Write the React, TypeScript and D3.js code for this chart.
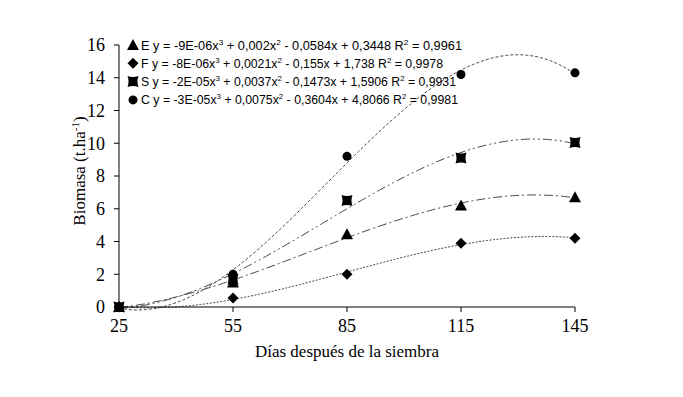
import React from "react";
import * as d3 from "d3";

const days = [25, 55, 85, 115, 145];
const seriesNames = ["E", "F", "S", "C"];
const valuesE = [0, 1.5, 4.45, 6.2, 6.7];
const valuesF = [0, 0.55, 2.0, 3.9, 4.2];
const valuesS = [0, 1.7, 6.5, 9.1, 10.05];
const valuesC = [0, 2.0, 9.2, 14.2, 14.3];
const equations = [
  ["y = -9E-06x", "3", " + 0,002x", "2", " - 0,0584x + 0,3448 R", "2", " = 0,9961"],
  ["y = -8E-06x", "3", " + 0,0021x", "2", " - 0,155x + 1,738 R", "2", " = 0,9978"],
  ["y = -2E-05x", "3", " + 0,0037x", "2", " - 0,1473x + 1,5906 R", "2", " = 0,9931"],
  ["y = -3E-05x", "3", " + 0,0075x", "2", " - 0,3604x + 4,8066 R", "2", " = 0,9981"],
];
const yTicks = [0, 2, 4, 6, 8, 10, 12, 14, 16];
const xTicks = [25, 55, 85, 115, 145];
const xTitle = "Días después de la siembra";

const allValues = [valuesE, valuesF, valuesS, valuesC];
const dashes = ["9,3,2,3", "2,1.5", "9,3,2,3,2,3", "3,2"];
const legendEnds = [462, 443, 456, 458];

// least squares cubic fit (what the spreadsheet trendline does)
function cubicFit(xs: number[], ys: number[]) {
  const t = xs.map((x) => (x - 85) / 30);
  const n = 4;
  const A: number[][] = Array.from({ length: n }, () => Array(n + 1).fill(0));
  for (let k = 0; k < t.length; k++) {
    const p = [1, t[k], t[k] ** 2, t[k] ** 3];
    for (let i = 0; i < n; i++) {
      for (let j = 0; j < n; j++) A[i][j] += p[i] * p[j];
      A[i][n] += p[i] * ys[k];
    }
  }
  for (let i = 0; i < n; i++) {
    let m = i;
    for (let r = i + 1; r < n; r++) if (Math.abs(A[r][i]) > Math.abs(A[m][i])) m = r;
    [A[i], A[m]] = [A[m], A[i]];
    for (let r = 0; r < n; r++) {
      if (r === i) continue;
      const f = A[r][i] / A[i][i];
      for (let c = i; c <= n; c++) A[r][c] -= f * A[i][c];
    }
  }
  const c = A.map((row, i) => row[n] / row[i]);
  return (x: number) => {
    const u = (x - 85) / 30;
    return c[0] + c[1] * u + c[2] * u * u + c[3] * u * u * u;
  };
}

const x = d3.scaleLinear().domain([25, 145]).range([119, 575]);
const y = d3.scaleLinear().domain([0, 16]).range([307, 45]);

function Marker({ kind, cx, cy }: { kind: string; cx: number; cy: number }) {
  if (kind === "E") {
    return <path d={`M${cx},${cy - 6}L${cx + 6},${cy + 5}L${cx - 6},${cy + 5}Z`} fill="#000" />;
  }
  if (kind === "F") {
    return <path d={`M${cx},${cy - 5.5}L${cx + 5.5},${cy}L${cx},${cy + 5.5}L${cx - 5.5},${cy}Z`} fill="#000" />;
  }
  if (kind === "S") {
    const s = 5.5;
    const k = 2;
    return (
      <path
        d={`M${cx - s},${cy - s}Q${cx},${cy - s + k} ${cx + s},${cy - s}Q${cx + s - k},${cy} ${cx + s},${cy + s}Q${cx},${cy + s - k} ${cx - s},${cy + s}Q${cx - s + k},${cy} ${cx - s},${cy - s}Z`}
        fill="#000"
      />
    );
  }
  return <circle cx={cx} cy={cy} r={4.5} fill="#000" />;
}

export default function App() {
  const line = d3
    .line<number>()
    .x((d) => x(d))
    .y((d) => y(0))
    .curve(d3.curveLinear);
  const grid = d3.range(25, 145.01, 0.5);
  return (
    <svg width={683} height={397} style={{ position: "absolute", left: 0, top: 0, background: "#fff" }}>
      <rect width={683} height={397} fill="#fff" />
      {allValues.map((vals, i) => {
        const f = cubicFit(days, vals);
        const l = d3
          .line<number>()
          .x((d) => x(d))
          .y((d) => y(Math.max(f(d), -0.3)));
        return (
          <path key={i} d={l(grid) || ""} fill="none" stroke="#444" strokeWidth={1} strokeDasharray={dashes[i]} />
        );
      })}
      {/* axes */}
      <line x1={x(25)} x2={x(145)} y1={y(0)} y2={y(0)} stroke="#000" strokeWidth={1} />
      <line x1={x(25)} x2={x(25)} y1={y(0)} y2={y(16)} stroke="#000" strokeWidth={1} />
      {yTicks.map((t) => (
        <g key={t}>
          <line x1={x(25) - 5} x2={x(25)} y1={y(t)} y2={y(t)} stroke="#000" />
          <text
            x={x(25) - 14}
            y={y(t)}
            dy="0.35em"
            textAnchor="end"
            fontFamily="Liberation Serif"
            fontSize={18}
          >
            {t}
          </text>
        </g>
      ))}
      {xTicks.map((t) => (
        <g key={t}>
          <line x1={x(t)} x2={x(t)} y1={y(0)} y2={y(0) + 5} stroke="#000" />
          <text x={x(t)} y={y(0) + 25} textAnchor="middle" fontFamily="Liberation Serif" fontSize={18}>
            {t}
          </text>
        </g>
      ))}
      <text x={347} y={357} textAnchor="middle" fontFamily="Liberation Serif" fontSize={17}>
        {xTitle}
      </text>
      <text
        transform="translate(85,171) rotate(-90)"
        textAnchor="middle"
        fontFamily="Liberation Serif"
        fontSize={17}
      >
        Biomasa (t.ha<tspan dy={-6} fontSize={11}>-1</tspan>
        <tspan dy={6}>)</tspan>
      </text>
      {/* data markers */}
      {allValues.map((vals, i) =>
        vals.map((v, j) => <Marker key={`${i}-${j}`} kind={seriesNames[i]} cx={x(days[j])} cy={y(v)} />)
      )}
      {/* legend */}
      {seriesNames.map((n, i) => {
        const ly = 45 + i * 18.3;
        const eq = equations[i];
        return (
          <g key={n}>
            <Marker kind={n} cx={133} cy={ly} />
            <text
              x={141}
              y={ly + 4.5}
              fontFamily="Liberation Sans"
              fontSize={12.5}
              textLength={legendEnds[i] - 141}
              lengthAdjust="spacingAndGlyphs"
            >
              {n + " " + eq[0]}
              <tspan dy={-5} fontSize={8}>{eq[1]}</tspan>
              <tspan dy={5}>{eq[2]}</tspan>
              <tspan dy={-5} fontSize={8}>{eq[3]}</tspan>
              <tspan dy={5}>{eq[4]}</tspan>
              <tspan dy={-5} fontSize={8}>{eq[5]}</tspan>
              <tspan dy={5}>{eq[6]}</tspan>
            </text>
          </g>
        );
      })}
    </svg>
  );
}
